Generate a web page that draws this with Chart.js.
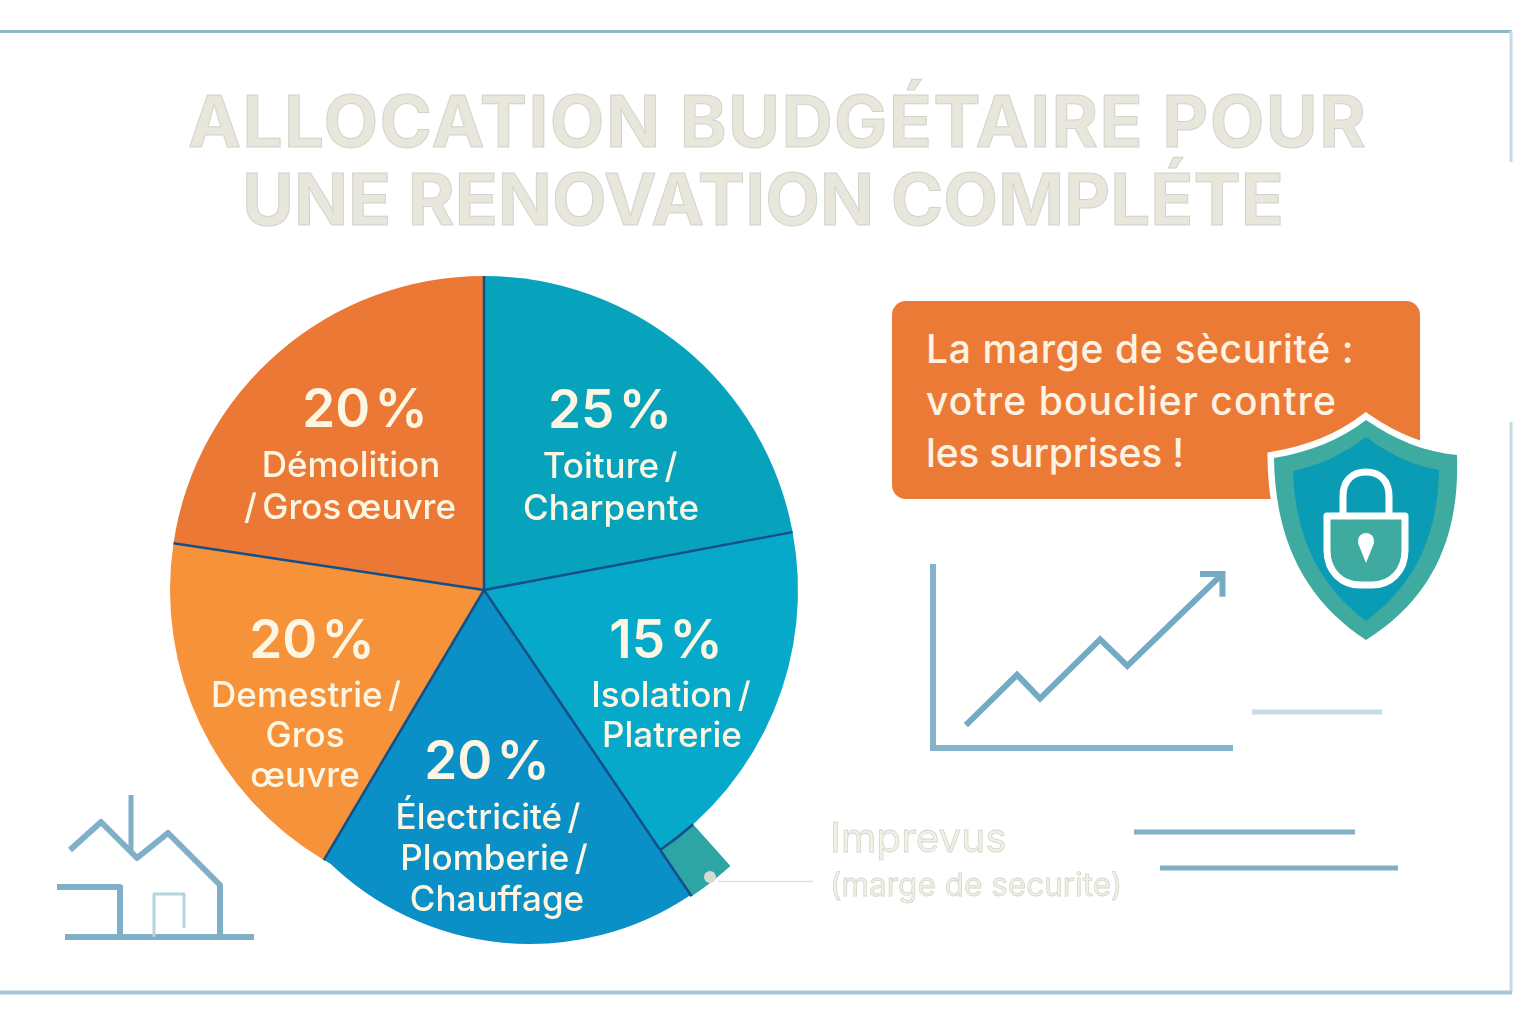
<!DOCTYPE html>
<html lang="fr">
<head>
  <meta charset="UTF-8">
  <title>Allocation budgétaire</title>
  <script src="https://cdn.jsdelivr.net/npm/chart.js"></script>
  <style>
    html, body { margin: 0; padding: 0; background: #fff; }
    body { width: 1536px; height: 1024px; position: relative; overflow: hidden; font-family: 'Inter', sans-serif; }
    canvas, svg { position: absolute; left: 0; top: 0; }
    .title {
      position: absolute; font-size: 71px; line-height: 80px; font-weight: 700; white-space: nowrap;
      color: #e9e7db; -webkit-text-stroke: 1px #cfd5cc;
    }
    .callout { position: absolute; left: 892px; top: 301px; width: 528px; height: 198px; border-radius: 14px; background: #ec7a37; }
    .callout div { position: absolute; left: 34px; color: #fdf3e3; font-size: 39px; font-weight: 500; line-height: 48px; white-space: nowrap; }
    .faint { position: absolute; white-space: nowrap; color: #f3f0e6; -webkit-text-stroke: 0.8px #d3d8ca; }
  </style>
</head>
<body>
  <canvas id="bulgeChart" width="1536" height="1024"></canvas>
  <canvas id="pieChart" width="1536" height="1024"></canvas>
  <canvas id="trendChart" width="1536" height="1024"></canvas>

  <div class="title" style="left: 188px; top: 81px; letter-spacing: 1.4px;">ALLOCATION BUDGÉTAIRE POUR</div>
  <div class="title" style="left: 242px; top: 159px;">UNE RENOVATION COMPLÉTE</div>

  <div class="callout">
    <div style="top: 24px; letter-spacing: 0.65px;">La marge de sècurité :</div>
    <div style="top: 76px; letter-spacing: 1.1px;">votre bouclier contre</div>
    <div style="top: 128px; letter-spacing: -0.2px;">les surprises !</div>
  </div>

  <div class="faint" style="left: 830px; top: 814px; font-size: 40.5px; line-height: 48px;">Imprevus</div>
  <div class="faint" style="left: 830px; top: 864px; font-size: 31.5px; line-height: 42px;">(marge de securite)</div>

  <!-- frame, house, shield and the short decorative rules -->
  <svg width="1536" height="1024" fill="none">
    <path d="M0 31.5H1512" stroke="#8fb6ca" stroke-width="3"/>
    <path d="M1511 31V162M1511 422V992" stroke="#c8dbe5" stroke-width="3"/>
    <path d="M0 992.5H1512" stroke="#a9c8d7" stroke-width="4"/>

    <g stroke="#7fb0c8" stroke-width="6" stroke-linejoin="round">
      <path d="M70 850L101 822L137 858L168 833L220 885V937"/>
      <path d="M131 795V852" stroke-width="5"/>
      <path d="M57 887H120V937"/>
      <path d="M65 937H254"/>
      <path d="M154 937V894H184V928" stroke="#b5d2df" stroke-width="3"/>
    </g>

    <path d="M1252 712H1382" stroke="#c6dbe5" stroke-width="5"/>
    <path d="M1134 832H1355" stroke="#7fb0c8" stroke-width="5"/>
    <path d="M1160 868H1398" stroke="#7fb0c8" stroke-width="5"/>
    <path d="M718 881.5H813" stroke="#d8e6d5" stroke-width="1.5"/>

    <path d="M1366 420C1395 440 1425 452 1457 455C1460 540 1430 600 1366 640C1305 600 1275 540 1274 458C1310 452 1340 440 1366 420Z"
          fill="#3eaaa0" stroke="#fff" stroke-width="13" paint-order="stroke"/>
    <path d="M1366 437C1390 455 1415 466 1439 470C1438 535 1415 585 1366 621C1318 585 1295 535 1293 471C1318 466 1342 455 1366 437Z" fill="#0a9cb5"/>
    <path d="M1343 516V496C1343 480 1353 472 1366 472C1379 472 1389 480 1389 496V516" stroke="#fff" stroke-width="7"/>
    <path d="M1327 516H1405V550C1405 572 1390 585 1372 585H1360C1342 585 1327 572 1327 550Z" fill="#3eaaa0" stroke="#fff" stroke-width="7" stroke-linejoin="round"/>
    <circle cx="1366" cy="541" r="8" fill="#fff"/>
    <path d="M1358 543H1374L1366 563Z" fill="#fff"/>
    <circle cx="710" cy="877" r="6" fill="#d5dcd0"/>
  </svg>

  <script>
    // Slice shares read off the drawn angles, they do not add up the way the printed percentages do
    const sliceNames = ['Toiture / Charpente', 'Isolation / Platrerie', 'Électricité / Plomberie / Chauffage', 'Demestrie / Gros œuvre', 'Démolition / Gros œuvre'];
    const sliceShares = [22.05, 18.47, 18.0, 18.86, 22.62];
    const sliceColors = ['#07a2bb', '#06a9c9', '#0a8fc6', '#f5923a', '#ec7835'];

    // Printed text inside the slices
    const slicePercents = ['25 %', '15 %', '20 %', '20 %', '20 %'];
    const sliceLines = [
      ['Toiture /', 'Charpente'],
      ['Isolation /', 'Platrerie'],
      ['Électricité /', 'Plomberie /', 'Chauffage'],
      ['Demestrie /', 'Gros', 'œuvre'],
      ['Démolition', '/ Gros œuvre']
    ];

    // Small "Imprevus" tab that sticks out of the pie
    const marginShares = [38.4, 2.1, 59.5];
    const marginColors = ['transparent', '#2ea5a5', 'transparent'];

    // The Électricité slice bulges past the circle
    const bulgeShares = [21.9, 78.1];

    // Rising line in the right panel
    const trendX = [11, 28.1, 35.8, 55.9, 65, 96.8];
    const trendY = [12.6, 40.4, 27.3, 60, 45.4, 96.2];
    const arrowX = [89.3, 96.8, 96.8];
    const arrowY = [96.2, 96.2, 83.6];

    // x, baseline of the percent, then one baseline per text line
    const labelSpots = [
      { percent: [610, 428], lines: [[610, 478], [611, 520]] },
      { percent: [666, 658], lines: [[671, 707], [672, 747]] },
      { percent: [487, 779], lines: [[488, 829], [494, 870], [497, 911]] },
      { percent: [312, 658], lines: [[306, 707], [305, 747], [305, 787]] },
      { percent: [365, 427], lines: [[351, 477], [350, 519]] }
    ];

    // Separators between slices and the text on top of them
    const pieOverlay = {
      id: 'pieOverlay',
      afterDatasetsDraw(chart) {
        const ctx = chart.ctx;
        const ring = chart.getDatasetMeta(0).data[1];
        const arcs = chart.getDatasetMeta(1).data;

        ctx.save();
        ctx.strokeStyle = '#135089';
        ctx.lineWidth = 2.5;
        arcs.forEach((arc, i) => {
          const reach = i === 2 ? ring.outerRadius : arc.outerRadius;
          ctx.beginPath();
          ctx.moveTo(arc.x, arc.y);
          ctx.lineTo(arc.x + Math.cos(arc.startAngle) * reach, arc.y + Math.sin(arc.startAngle) * reach);
          ctx.stroke();
        });
        ctx.beginPath();
        ctx.arc(ring.x, ring.y, ring.innerRadius, ring.startAngle, ring.endAngle);
        ctx.stroke();

        ctx.fillStyle = '#fdf6e3';
        ctx.textAlign = 'center';
        ctx.textBaseline = 'alphabetic';
        labelSpots.forEach((spot, i) => {
          ctx.font = '600 53px Inter';
          ctx.wordSpacing = '-9px';
          ctx.fillText(slicePercents[i], spot.percent[0], spot.percent[1]);
          ctx.font = '500 35px Inter';
          ctx.wordSpacing = '-4px';
          sliceLines[i].forEach((line, j) => {
            ctx.fillText(line, spot.lines[j][0], spot.lines[j][1]);
          });
        });
        ctx.restore();
      }
    };

    const baseOptions = {
      responsive: false,
      animation: false,
      plugins: { legend: { display: false }, tooltip: { enabled: false } }
    };

    new Chart(document.getElementById('bulgeChart').getContext('2d'), {
      type: 'pie',
      data: {
        labels: ['Électricité', ''],
        datasets: [{ data: bulgeShares, backgroundColor: [sliceColors[2], 'transparent'], borderWidth: 0 }]
      },
      options: {
        ...baseOptions,
        rotation: 146,
        layout: { padding: { left: 242, right: 718, top: 368, bottom: 80 } }
      }
    });

    new Chart(document.getElementById('pieChart').getContext('2d'), {
      type: 'pie',
      data: {
        labels: sliceNames,
        datasets: [
          { data: marginShares, backgroundColor: marginColors, borderWidth: 0, weight: 56 },
          { data: sliceShares, backgroundColor: sliceColors, borderWidth: 0, weight: 314 }
        ]
      },
      options: {
        ...baseOptions,
        layout: { padding: { left: 114, right: 682, top: 220, bottom: 64 } }
      },
      plugins: [pieOverlay]
    });

    new Chart(document.getElementById('trendChart').getContext('2d'), {
      type: 'scatter',
      data: {
        datasets: [
          { data: trendX.map((x, i) => ({ x, y: trendY[i] })), showLine: true, borderColor: '#74aac3', borderWidth: 6, pointRadius: 0 },
          { data: arrowX.map((x, i) => ({ x, y: arrowY[i] })), showLine: true, borderColor: '#74aac3', borderWidth: 6, pointRadius: 0 }
        ]
      },
      options: {
        ...baseOptions,
        layout: { padding: { left: 925, right: 304, top: 567, bottom: 268 } },
        scales: {
          x: { min: 0, max: 100, grid: { display: false }, ticks: { display: false }, border: { color: '#85b3ca', width: 6 } },
          y: { min: 0, max: 100, grid: { display: false }, ticks: { display: false }, border: { color: '#85b3ca', width: 6 } }
        }
      }
    });
  </script>
</body>
</html>
